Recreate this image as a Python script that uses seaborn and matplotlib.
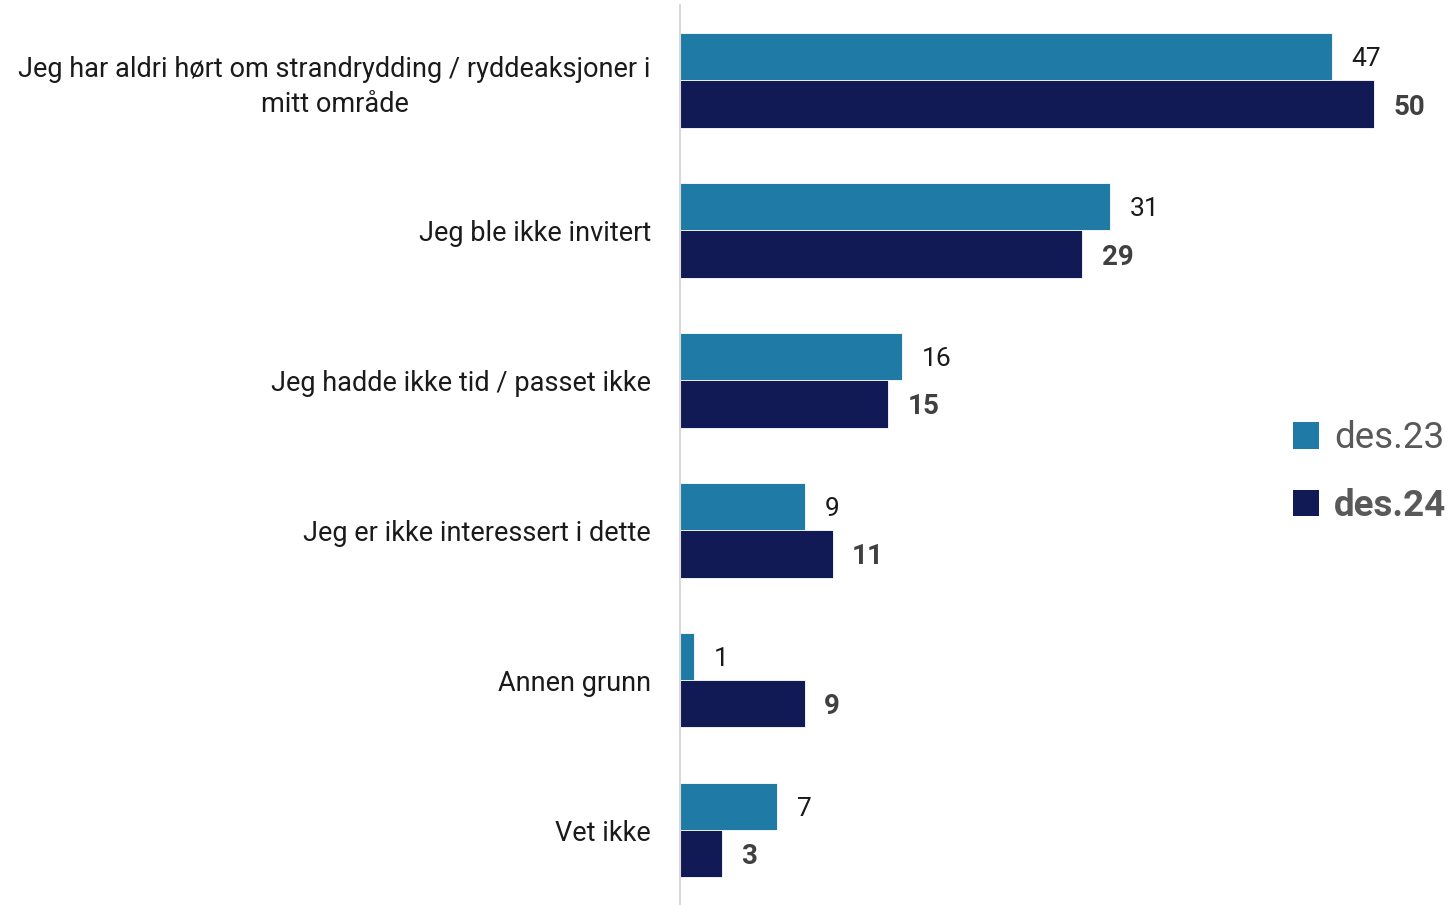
import matplotlib
matplotlib.use("Agg")
import matplotlib.pyplot as plt
from matplotlib.patches import Patch
import seaborn as sns
import pandas as pd

categories = [
    "Jeg har aldri hørt om strandrydding / ryddeaksjoner i\nmitt område",
    "Jeg ble ikke invitert",
    "Jeg hadde ikke tid / passet ikke",
    "Jeg er ikke interessert i dette",
    "Annen grunn",
    "Vet ikke",
]
series_names = ["des.23", "des.24"]
values_23 = [47, 31, 16, 9, 1, 7]
values_24 = [50, 29, 15, 11, 9, 3]
colors = ["#1f7ba5", "#121a55"]

df = pd.DataFrame({
    "kategori": categories * 2,
    "serie": [series_names[0]] * len(categories) + [series_names[1]] * len(categories),
    "verdi": values_23 + values_24,
})

sns.set_theme(style="white")
plt.rcParams["font.family"] = ["Roboto", "DejaVu Sans"]

fig = plt.figure(figsize=(14.55, 9.05), dpi=100)
ax = fig.add_axes([680 / 1455, 0.0, 763 / 1455, 0.994])

sns.barplot(data=df, x="verdi", y="kategori", hue="serie", order=categories,
            hue_order=series_names, palette=colors, saturation=1, orient="h",
            width=0.632, edgecolor="white", linewidth=0.6, legend=False, ax=ax)

ax.set_xlim(0, 55)
ax.set_ylim(5.5, -0.5)
ax.set_xlabel("")
ax.set_ylabel("")
ax.set_xticks([])
for s in ["top", "right", "bottom"]:
    ax.spines[s].set_visible(False)
ax.spines["left"].set_color("#d9d9d9")
ax.spines["left"].set_linewidth(1.5)
ax.tick_params(axis="y", length=0, pad=21)
for lab in ax.get_yticklabels():
    lab.set_fontsize(19.5)
    lab.set_color("#1a1a1a")
    lab.set_fontweight("normal")
    lab.set_multialignment("center")
    lab.set_linespacing(1.38)

# value labels
for i, cont in enumerate(ax.containers):
    if i == 0:
        txts = ax.bar_label(cont, labels=[str(v) for v in values_23], padding=14,
                            fontsize=19, color="#1a1a1a", fontweight="normal")
    else:
        txts = ax.bar_label(cont, labels=[str(v) for v in values_24], padding=14,
                            fontsize=20, color="#404040", fontweight="bold")
    for t in txts:
        t.set_verticalalignment("center_baseline")

handles = [Patch(facecolor=colors[0], edgecolor="none"),
           Patch(facecolor=colors[1], edgecolor="none")]
leg = fig.legend(handles, series_names, loc="center left",
                 bbox_to_anchor=(1278 / 1455, 1 - 472 / 905), frameon=False,
                 fontsize=26.5, handlelength=0.72, handleheight=0.72,
                 handletextpad=0.4, labelspacing=0.85, borderaxespad=0)
texts = leg.get_texts()
texts[0].set_color("#595959")
texts[0].set_fontweight("normal")
texts[1].set_color("#595959")
texts[1].set_fontweight("bold")

fig.savefig("out.png", dpi=100)
